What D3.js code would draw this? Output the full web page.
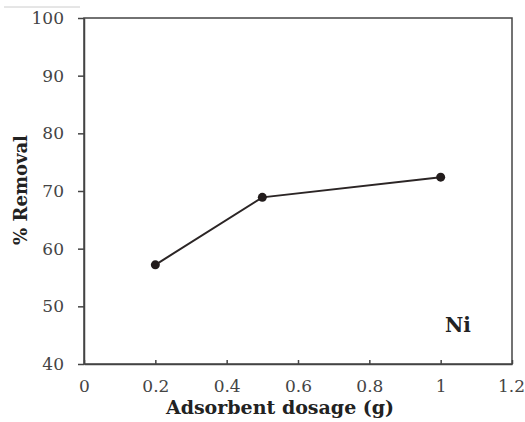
<!DOCTYPE html>
<html>
<head>
<meta charset="utf-8">
<script src="https://cdn.jsdelivr.net/npm/d3@7"></script>
<style>
  body { margin: 0; background: #fff; }
  text { font-family: "DejaVu Serif", "Liberation Serif", serif; }
</style>
</head>
<body>
<div id="chart"></div>
<script>
// Data
const dosage = [0.2, 0.5, 1.0];
const removal = [57.2, 68.9, 72.4];
const xTicks = [0, 0.2, 0.4, 0.6, 0.8, 1, 1.2];
const yTicks = [40, 50, 60, 70, 80, 90, 100];

const width = 525;
const height = 422;
const margin = { top: 18, right: 13, bottom: 58, left: 84 };

const svg = d3.select("#chart")
    .append("svg")
    .attr("width", width)
    .attr("height", height);

// Scales
const x = d3.scaleLinear()
    .domain([0, 1.2])
    .range([margin.left, width - margin.right]);

const y = d3.scaleLinear()
    .domain([40, 100])
    .range([height - margin.bottom, margin.top]);

// faint scan line at top
svg.append("line")
    .attr("x1", 4).attr("x2", 80)
    .attr("y1", 7).attr("y2", 7)
    .attr("stroke", "#ccc")
    .attr("stroke-width", 1);

// Plot frame
svg.append("rect")
    .attr("x", margin.left)
    .attr("y", margin.top)
    .attr("width", width - margin.left - margin.right)
    .attr("height", height - margin.top - margin.bottom)
    .attr("fill", "none")
    .attr("stroke", "#444")
    .attr("stroke-width", 1.5);

// X axis (ticks point inward)
const xAxis = svg.append("g")
    .attr("transform", `translate(0, ${height - margin.bottom})`)
    .call(d3.axisBottom(x)
        .tickValues(xTicks)
        .tickSizeInner(-4)
        .tickSizeOuter(0)
        .tickPadding(16)
        .tickFormat(d => d3.format("")(d)));
xAxis.attr("font-family", null);
xAxis.select(".domain").attr("stroke", "#444").attr("stroke-width", 1.5);
xAxis.selectAll(".tick line").attr("stroke", "#444").attr("stroke-width", 1.5);
xAxis.selectAll(".tick text")
    .style("font-size", "17px")
    .attr("fill", "#444")
    .attr("dx", d => d === 1.2 ? -1 : 0);

// Y axis (ticks point outward)
const yAxis = svg.append("g")
    .attr("transform", `translate(${margin.left}, 0)`)
    .call(d3.axisLeft(y)
        .tickValues(yTicks)
        .tickSizeInner(6)
        .tickSizeOuter(0)
        .tickPadding(14));
yAxis.attr("font-family", null);
yAxis.select(".domain").attr("stroke", "#444").attr("stroke-width", 1.5);
yAxis.selectAll(".tick line").attr("stroke", "#444").attr("stroke-width", 1.5);
yAxis.selectAll(".tick text")
    .style("font-size", "17px")
    .attr("fill", "#444");

// Line
const points = dosage.map((d, i) => ({ x: d, y: removal[i] }));

const line = d3.line()
    .x(d => x(d.x))
    .y(d => y(d.y));

svg.append("path")
    .datum(points)
    .attr("fill", "none")
    .attr("stroke", "#2b2525")
    .attr("stroke-width", 2)
    .attr("d", line);

svg.selectAll("circle.pt")
    .data(points)
    .enter()
    .append("circle")
    .attr("class", "pt")
    .attr("cx", d => x(d.x))
    .attr("cy", d => y(d.y))
    .attr("r", 4.5)
    .attr("fill", "#221c1c");

// Axis labels
svg.append("text")
    .attr("x", 280)
    .attr("y", 414)
    .attr("text-anchor", "middle")
    .style("font-size", "19px")
    .style("font-weight", "bold")
    .attr("fill", "#222")
    .text("Adsorbent dosage (g)");

svg.append("text")
    .attr("transform", "rotate(-90)")
    .attr("x", -190)
    .attr("y", 27)
    .attr("text-anchor", "middle")
    .style("font-size", "18px")
    .style("font-weight", "bold")
    .attr("fill", "#222")
    .text("% Removal");

// Metal label
svg.append("text")
    .attr("x", 458)
    .attr("y", 332)
    .attr("text-anchor", "middle")
    .style("font-size", "20px")
    .style("font-weight", "bold")
    .attr("fill", "#222")
    .text("Ni");
</script>
</body>
</html>
